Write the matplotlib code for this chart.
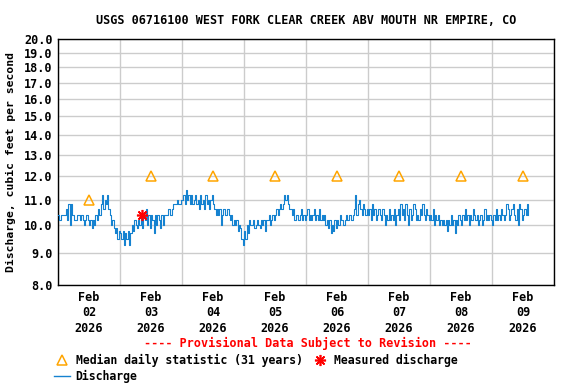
import numpy as np
import pandas as pd
import matplotlib
matplotlib.use('Agg')
import matplotlib.pyplot as plt
from matplotlib.lines import Line2D

# Station info
title = 'USGS 06716100 WEST FORK CLEAR CREEK ABV MOUTH NR EMPIRE, CO'

# Discharge, cfs, every 30 minutes starting Feb 02 2026 00:00
feb02 = [10.4, 10.2, 10.4, 10.4, 10.4, 10.4, 10.6, 10.2, 10.8, 10.0, 10.8, 10.4,
         10.2, 10.2, 10.2, 10.4, 10.4, 10.2, 10.4, 10.2, 10.0, 10.2, 10.4, 10.2,
         10.0, 10.2, 9.9, 10.2, 10.0, 10.4, 10.2, 10.6, 10.4, 10.8, 11.2, 10.6,
         11.0, 10.8, 11.2, 10.6, 10.4, 10.0, 10.2, 9.9, 9.7, 9.9, 9.5, 9.8]
feb03 = [9.7, 9.5, 9.8, 9.3, 9.7, 9.5, 9.8, 9.3, 9.7, 10.0, 9.8, 10.2,
         10.0, 9.9, 10.2, 10.0, 10.4, 9.9, 10.4, 10.2, 10.6, 10.0, 10.4, 9.9,
         10.4, 10.2, 9.7, 10.4, 10.0, 10.4, 10.2, 9.9, 10.4, 10.0, 10.4, 10.4,
         10.4, 10.6, 10.6, 10.4, 10.6, 10.8, 10.8, 10.8, 11.0, 10.8, 10.8, 11.0]
feb04 = [11.0, 11.2, 10.8, 11.4, 11.0, 11.2, 10.8, 11.2, 10.8, 11.0, 11.2, 10.8,
         11.0, 10.6, 11.2, 10.8, 11.0, 10.6, 11.2, 10.8, 11.0, 10.6, 11.0, 11.2,
         10.8, 10.6, 10.4, 10.6, 10.4, 10.6, 10.0, 10.4, 10.6, 10.4, 10.4, 10.6,
         10.4, 10.2, 10.4, 10.0, 10.2, 10.0, 10.2, 9.8, 10.0, 9.9, 9.5, 9.3]
feb05 = [9.8, 9.5, 10.0, 9.7, 10.2, 10.0, 10.0, 10.2, 9.9, 10.0, 10.2, 10.0,
         9.9, 10.2, 10.0, 10.2, 9.8, 10.2, 10.2, 10.4, 10.0, 10.2, 10.4, 10.2,
         10.4, 10.6, 10.4, 10.6, 10.8, 10.6, 10.8, 11.2, 11.0, 11.2, 10.8, 10.6,
         10.6, 10.4, 10.6, 10.2, 10.4, 10.4, 10.2, 10.4, 10.6, 10.2, 10.4, 10.2]
feb06 = [10.4, 10.6, 10.2, 10.4, 10.2, 10.4, 10.6, 10.2, 10.4, 10.2, 10.6, 10.2,
         10.4, 10.2, 10.4, 10.0, 10.2, 9.9, 10.2, 9.7, 10.0, 9.8, 10.2, 9.9,
         10.2, 10.0, 10.4, 10.2, 10.2, 10.0, 10.2, 10.4, 10.2, 10.4, 10.4, 10.2,
         10.4, 10.6, 11.2, 10.4, 10.8, 11.0, 10.6, 10.4, 10.8, 10.6, 10.4, 10.6]
feb07 = [10.4, 10.6, 10.2, 10.8, 10.4, 10.6, 10.2, 10.4, 10.6, 10.4, 10.2, 10.6,
         10.4, 10.0, 10.4, 10.2, 10.6, 10.2, 10.4, 10.2, 10.6, 10.0, 10.4, 10.6,
         10.2, 10.8, 10.4, 10.6, 10.2, 10.8, 10.4, 10.0, 10.6, 10.2, 10.4, 10.8,
         10.6, 10.2, 10.4, 10.2, 10.6, 10.4, 10.8, 10.4, 10.2, 10.6, 10.4, 10.2]
feb08 = [10.4, 10.2, 10.6, 10.0, 10.4, 10.2, 10.4, 10.0, 10.2, 10.0, 10.2, 10.0,
         10.2, 9.8, 10.2, 10.0, 10.4, 10.0, 10.2, 9.7, 10.2, 10.0, 10.4, 10.2,
         10.0, 10.4, 10.2, 10.6, 10.2, 10.4, 10.0, 10.4, 10.2, 10.6, 10.4, 10.2,
         10.4, 10.0, 10.2, 10.4, 10.0, 10.2, 10.6, 10.2, 10.4, 10.2, 10.4, 10.2]
feb09 = [10.0, 10.4, 10.2, 10.6, 10.2, 10.4, 10.2, 10.6, 10.4, 10.2, 10.4, 10.8,
         10.6, 10.2, 10.4, 10.6, 10.8, 10.4, 10.2, 10.6, 10.0, 10.8, 10.6, 10.2,
         10.4, 10.6, 10.4, 10.8, 10.4]
discharge = feb02 + feb03 + feb04 + feb05 + feb06 + feb07 + feb08 + feb09
times = pd.date_range('2026-02-02 00:00', periods=len(discharge), freq='30min')

# Median daily statistic (31 years), plotted at noon
median_days = pd.to_datetime(['2026-02-02 12:00', '2026-02-03 12:00', '2026-02-04 12:00',
                              '2026-02-05 12:00', '2026-02-06 12:00', '2026-02-07 12:00',
                              '2026-02-08 12:00', '2026-02-09 12:00'])
median_vals = [11.0, 12.0, 12.0, 12.0, 12.0, 12.0, 12.0, 12.0]

# Field measurement
meas_time = pd.to_datetime(['2026-02-03 08:30'])
meas_val = [10.4]

# Axis labels
yticks = [8, 9, 10, 11, 12, 13, 14, 15, 16, 17, 18, 19, 20]
day_labels = ['Feb\n02\n2026', 'Feb\n03\n2026', 'Feb\n04\n2026', 'Feb\n05\n2026',
              'Feb\n06\n2026', 'Feb\n07\n2026', 'Feb\n08\n2026', 'Feb\n09\n2026']
midnights = pd.date_range('2026-02-02', '2026-02-10', freq='D')

font = 'DejaVu Sans Mono'
plt.rcParams['font.family'] = font
plt.rcParams['font.weight'] = 'bold'

fig = plt.figure(figsize=(5.76, 3.84), dpi=100)
ax = fig.add_axes([58 / 576, 99 / 384, 496 / 576, 246 / 384])

ax.plot(times, discharge, color='#1582d0', lw=0.8, drawstyle='steps-post', zorder=3)
ax.plot(median_days, median_vals, ls='none', marker='^', ms=7, mfc='none',
        mec='#ffa500', mew=1.1, zorder=4)
ax.plot(meas_time, meas_val, ls='none', marker=(8, 2, 0), ms=8, color='red', mew=1.2, zorder=5)

ax.set_yscale('log')
ax.set_ylim(8, 20)
ax.set_yticks(yticks)
ax.set_yticklabels([f'{v:.1f}' for v in yticks], fontsize=8.5, fontweight='bold')
ax.yaxis.set_minor_locator(matplotlib.ticker.NullLocator())

ax.set_xlim(midnights[0], midnights[-1])
ax.set_xticks(median_days)
ax.set_xticklabels(day_labels, fontsize=8.5, fontweight='bold', linespacing=1.25)
ax.set_xticks(midnights, minor=True)
ax.tick_params(axis='both', which='both', length=0, pad=4)
ax.grid(True, axis='y', which='major', color='#cccccc', lw=1)
ax.grid(True, axis='x', which='minor', color='#cccccc', lw=1)
ax.set_axisbelow(True)
for sp in ax.spines.values():
    sp.set_linewidth(1)
    sp.set_color('black')

ax.set_ylabel('Discharge, cubic feet per second', fontsize=8.2, fontweight='bold', labelpad=6)
fig.text(306 / 576, 1 - 20 / 384, title, ha='center', va='center', fontsize=8.5, fontweight='bold')
fig.text(308 / 576, 1 - 343 / 384, '---- Provisional Data Subject to Revision ----',
         ha='center', va='center', fontsize=8.5, fontweight='bold', color='red')

handles = [Line2D([], [], ls='none', marker='^', ms=7, mfc='none', mec='#ffa500', mew=1.1),
           Line2D([], [], color='#1582d0', lw=1),
           Line2D([], [], ls='none', marker=(8, 2, 0), ms=8, color='red', mew=1.2)]
labels = ['Median daily statistic (31 years)', 'Discharge', 'Measured discharge']
fig.legend(handles, labels, loc='upper left', bbox_to_anchor=(48 / 576, 1 - 348 / 384),
           ncol=2, frameon=False, fontsize=8.3, handlelength=1.4, handletextpad=0.5,
           columnspacing=0.8, borderpad=0, labelspacing=0.25)

fig.savefig('out.png', dpi=100)
